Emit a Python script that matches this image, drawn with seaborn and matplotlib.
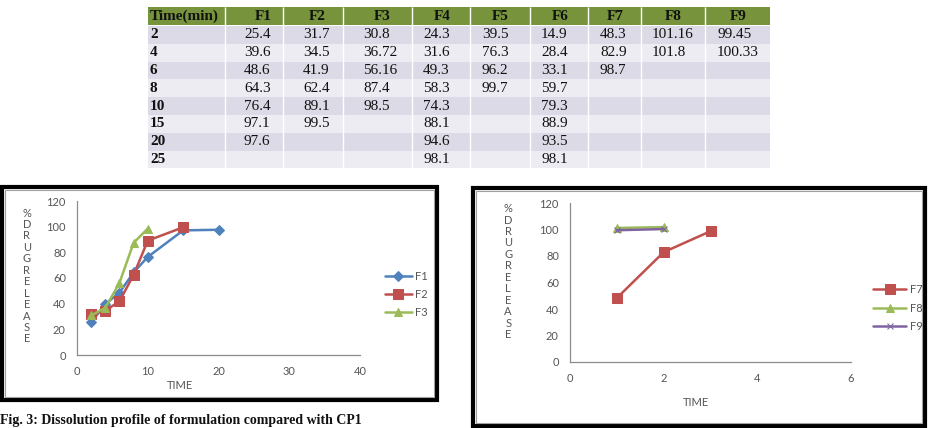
import pandas as pd
import matplotlib
matplotlib.use("Agg")
import matplotlib.pyplot as plt
from matplotlib.patches import Rectangle
import seaborn as sns

# table data (None = empty cell)
times = [2, 4, 6, 8, 10, 15, 20, 25]
f1 = [25.4, 39.6, 48.6, 64.3, 76.4, 97.1, 97.6, None]
f2 = [31.7, 34.5, 41.9, 62.4, 89.1, 99.5, None, None]
f3 = [30.8, 36.72, 56.16, 87.4, 98.5, None, None, None]
f4 = [24.3, 31.6, 49.3, 58.3, 74.3, 88.1, 94.6, 98.1]
f5 = [39.5, 76.3, 96.2, 99.7, None, None, None, None]
f6 = [14.9, 28.4, 33.1, 59.7, 79.3, 88.9, 93.5, 98.1]
f7 = [48.3, 82.9, 98.7, None, None, None, None, None]
f8 = [101.16, 101.8, None, None, None, None, None, None]
f9 = [99.45, 100.33, None, None, None, None, None, None]
forms = {"F1": f1, "F2": f2, "F3": f3, "F4": f4, "F5": f5,
         "F6": f6, "F7": f7, "F8": f8, "F9": f9}

left_forms = ["F1", "F2", "F3"]
right_forms = ["F7", "F8", "F9"]
point_no = [1, 2, 3]   # x used in the right chart

x_ticks_left = [0, 10, 20, 30, 40]
x_ticks_right = [0, 2, 4, 6]
y_ticks = [0, 20, 40, 60, 80, 100, 120]

caption = "Fig. 3: Dissolution profile of formulation compared with CP1"

sns.set_style("white")
plt.rcParams["font.family"] = ["Lato", "DejaVu Sans"]

fig = plt.figure(figsize=(9.34, 4.28), dpi=100)

# pixel canvas for the table, frames and caption
bg = fig.add_axes([0, 0, 1, 1])
bg.set_xlim(0, 934)
bg.set_ylim(428, 0)
bg.axis("off")

# ---- table ----
serif = ["Liberation Serif", "DejaVu Serif"]
col_edges = [148, 225, 283, 343, 412, 470, 530, 588, 641, 705, 770]
head_x = [263, 317, 382, 442, 500, 560, 615, 673, 738]
data_x = [244, 303, 363, 423, 482, 541, 600, 652, 717]
head_top, head_bot = 7, 25
row_top, row_h = 26, 17.8
tab_w = col_edges[-1] - col_edges[0]

bg.add_patch(Rectangle((col_edges[0], head_top), tab_w, head_bot - head_top,
                       color="#77933C", lw=0))
bg.text(150, (head_top + head_bot) / 2, "Time(min)", family=serif,
        fontsize=11, weight="bold", va="center", ha="left", color="#111111")
for hx, name in zip(head_x, forms):
    bg.text(hx, (head_top + head_bot) / 2, name, family=serif, fontsize=11,
            weight="bold", va="center", ha="center", color="#111111")

for i, t in enumerate(times):
    y0 = row_top + i * row_h
    bg.add_patch(Rectangle((col_edges[0], y0), tab_w, row_h, lw=0,
                           color="#DCDAE6" if i % 2 == 0 else "#EDECF3"))
    bg.text(150, y0 + row_h / 2, str(t), family=serif, fontsize=11,
            weight="bold", va="center", ha="left", color="#111111")
    for dx, (name, vals) in zip(data_x, forms.items()):
        v = vals[i]
        if v is not None:
            bg.text(dx, y0 + row_h / 2, f"{v:g}", family=serif, fontsize=11,
                    va="center", ha="left", color="#111111")

for e in col_edges[1:-1]:
    bg.vlines(e, head_top, row_top + len(times) * row_h, color="white", lw=1)

# ---- chart frames ----
bg.add_patch(Rectangle((2, 187), 435, 213, fill=False, ec="black", lw=3))
bg.add_patch(Rectangle((5, 190), 429, 207, fill=False, ec="#A0A0A0", lw=0.8))
bg.add_patch(Rectangle((473, 188), 452, 238, fill=False, ec="black", lw=3))
bg.add_patch(Rectangle((476, 191), 446, 232, fill=False, ec="#A0A0A0", lw=0.8))

bg.text(0, 427, caption, family=serif, fontsize=10, weight="bold",
        va="bottom", ha="left", color="#111111")

styles = {
    "F1": ("#4F81BD", "D", 5),
    "F2": ("#C0504D", "s", 7),
    "F3": ("#9BBB59", "^", 6),
    "F7": ("#C0504D", "s", 7),
    "F8": ("#9BBB59", "^", 6),
    "F9": ("#8064A2", "x", 5),
}

ylab = "%\nD\nR\nU\nG\nR\nE\nL\nE\nA\nS\nE"


def style_axis(ax, xticks):
    ax.set_xlim(xticks[0], xticks[-1])
    ax.set_ylim(0, 120)
    ax.set_xticks(xticks)
    ax.set_yticks(y_ticks)
    sns.despine(ax=ax)
    for s in ["left", "bottom"]:
        ax.spines[s].set_color("#8C8C8C")
        ax.spines[s].set_linewidth(0.9)
    ax.tick_params(axis="both", direction="out", length=3, width=0.8,
                   color="#8C8C8C", labelsize=8, labelcolor="#555555", pad=5)
    ax.set_xlabel("TIME", fontsize=8, color="#555555")
    ax.set_ylabel(ylab, rotation=0, fontsize=8, color="#555555",
                  linespacing=1.05, ha="center", va="center")


# ---- left chart ----
ax1 = fig.add_axes([77 / 934, 1 - 355 / 428, 283 / 934, 154 / 428])
for name in left_forms:
    c, m, ms = styles[name]
    d = pd.DataFrame({"time": times, "release": forms[name]}).dropna()
    sns.lineplot(data=d, x="time", y="release", ax=ax1, color=c, marker=m,
                 markersize=ms, markeredgecolor=c, lw=1.8, label=name)
style_axis(ax1, x_ticks_left)
ax1.xaxis.set_label_coords(0.364, -0.165)
ax1.yaxis.set_label_coords(-0.177, 0.513)
ax1.legend(loc="center left", bbox_to_anchor=(385 / 934, 1 - 294.5 / 428),
           bbox_transform=fig.transFigure, frameon=False, fontsize=8,
           handlelength=2.4, handletextpad=0.3, labelspacing=0.65,
           borderpad=0, borderaxespad=0, labelcolor="#555555")

# ---- right chart ----
ax2 = fig.add_axes([570 / 934, 1 - 362 / 428, 281 / 934, 159 / 428])
for name in right_forms:
    c, m, ms = styles[name]
    vals = [v for v in forms[name] if v is not None]
    d = pd.DataFrame({"point": point_no[:len(vals)], "release": vals})
    sns.lineplot(data=d, x="point", y="release", ax=ax2, color=c, marker=m,
                 markersize=ms, markeredgecolor=c, lw=1.8, label=name)
style_axis(ax2, x_ticks_right)
ax2.xaxis.set_label_coords(0.448, -0.22)
ax2.yaxis.set_label_coords(-0.22, 0.569)
ax2.legend(loc="center left", bbox_to_anchor=(873 / 934, 1 - 308 / 428),
           bbox_transform=fig.transFigure, frameon=False, fontsize=8,
           handlelength=3.0, handletextpad=0.3, labelspacing=0.65,
           borderpad=0, borderaxespad=0, labelcolor="#555555")

fig.savefig("out.png", dpi=100)
